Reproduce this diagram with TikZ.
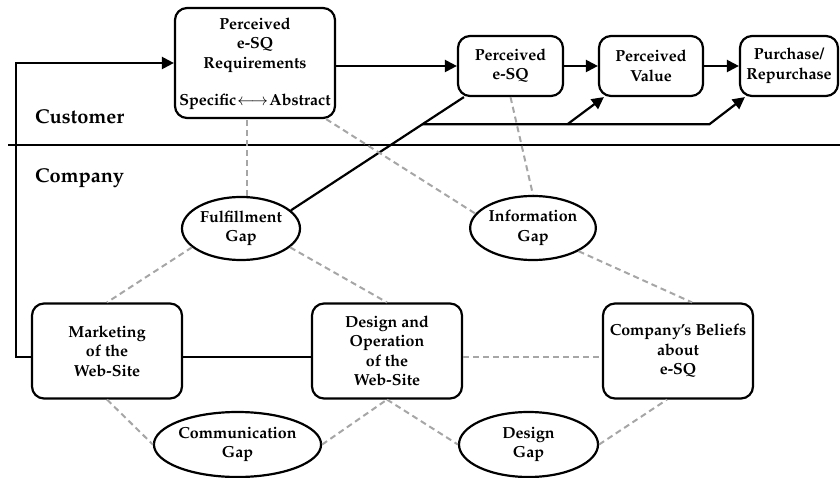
\documentclass[tikz,border=0pt]{standalone}
\usepackage[T1]{fontenc}
\usepackage{mathpazo}
\usepackage{tikz}
\usetikzlibrary{positioning,arrows.meta,shapes.geometric}

\begin{document}
\begin{tikzpicture}[x=1pt,y=-1pt,
    box/.style={draw, line width=2.2pt, rounded corners=12pt, align=center, inner sep=2pt,
        font=\bfseries\fontsize{16}{19.5}\selectfont},
    gap/.style={draw, ellipse, line width=2.2pt, align=center, inner sep=0pt,
        font=\bfseries\fontsize{16}{19.5}\selectfont},
    lane/.style={font=\bfseries\fontsize{20}{22}\selectfont, inner sep=0pt},
    line/.style={line width=2.2pt},
    flow/.style={line width=2.2pt, -{Triangle[length=12pt,width=12pt]}},
    link/.style={draw=gray!70, line width=2pt, dash pattern=on 6pt off 4pt}]
    \useasboundingbox (0,0) rectangle (840,478);

    % customer side
    \node[box, minimum width=160pt, minimum height=110pt] (req) at (255,63) {};
    \node[font=\bfseries\fontsize{16}{19.5}\selectfont, align=center, anchor=north] (reqtxt) at (255,14)
        {Perceived\\e-SQ\\Requirements};
    \node[font=\bfseries\fontsize{16}{19.5}\selectfont, anchor=base] (scale) at (255,106)
        {Specific\kern1pt$\longleftrightarrow$\kern1ptAbstract};
    \node[box, minimum width=105pt, minimum height=60pt] (esq) at (510.5,66) {Perceived\\e-SQ};
    \node[box, minimum width=104pt, minimum height=60pt] (val) at (651,66) {Perceived\\Value};
    \node[box, minimum width=98pt, minimum height=60pt] (buy) at (789,66) {Purchase/\\Repurchase};

    \node[lane, anchor=base west] (cust) at (35,124) {Customer};
    \node[lane, anchor=base west] (comp) at (35,183) {Company};
    \draw[line] (8,145) -- (840,145);

    % company side
    \node[box, minimum width=150pt, minimum height=95pt] (mkt) at (107,351) {Marketing\\of the\\Web-Site};
    \node[box, minimum width=150pt, minimum height=95pt] (des) at (387,351) {Design and\\Operation\\of the\\Web-Site};
    \node[box, minimum width=150pt, minimum height=95pt] (bel) at (678,351) {Company's Beliefs\\about\\e-SQ};

    \node[gap, minimum width=118pt, minimum height=63pt] (ful) at (241,228.5) {Fulfillment\\Gap};
    \node[gap, minimum width=120pt, minimum height=64pt] (inf) at (533,228) {Information\\Gap};
    \node[gap, minimum width=139pt, minimum height=65pt] (com) at (237.5,444.5) {Communication\\Gap};
    \node[gap, minimum width=139pt, minimum height=65pt] (dgap) at (528.5,444.5) {Design\\Gap};

    % flows
    \draw[flow] ([yshift=-6pt]mkt.west) -- ++(-15,0) |- (req.west);
    \draw[flow] (req.east |- esq) -- (esq.west);
    \draw[flow] (esq) -- (val);
    \draw[flow] (val) -- (buy);
    \draw[line] ([yshift=-6pt]mkt.east) -- ([yshift=-6pt]des.west);
    \draw[line] (ful.20) -- coordinate[pos=0.76] (fork) ([xshift=7pt]esq.south west);
    \draw[flow] (fork) -- ++(287,0) -- ([xshift=6pt]buy.south west);
    \draw[flow] ([xshift=145pt]fork) -- ([xshift=6pt]val.south west);

    % gaps
    \draw[link] (ful.80) -- (ful.80 |- req.south);
    \draw[link] ([xshift=-10pt]req.south east) -- (inf.166);
    \draw[link] (esq.south) -- (inf.north);
    \draw[link] (ful.201) -- (mkt.north);
    \draw[link] (ful.339) -- (des.north);
    \draw[link] (inf.333) -- ([xshift=14pt]bel.north);
    \draw[link] ([yshift=-6pt]des.east) -- ([yshift=-6pt]bel.west);
    \draw[link] (mkt.south) -- (com.west);
    \draw[link] (com.east) -- (des.south);
    \draw[link] (des.south) -- (dgap.west);
    \draw[link] (dgap.east) -- ([xshift=-11pt]bel.south);
\end{tikzpicture}
\end{document}
